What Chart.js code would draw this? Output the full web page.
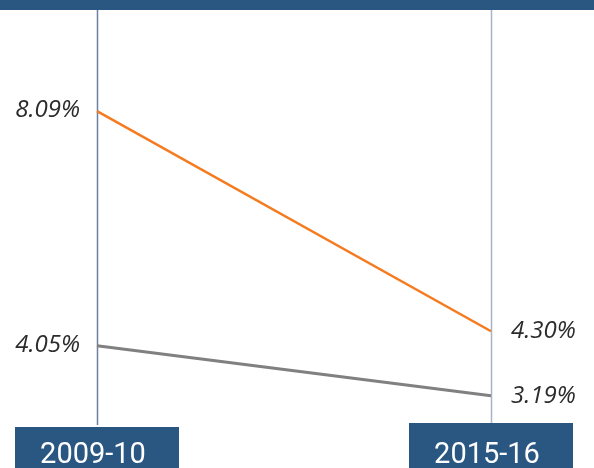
<!DOCTYPE html>
<html>
<head>
<meta charset="utf-8">
<script src="https://cdn.jsdelivr.net/npm/chart.js@4"></script>
<style>
  html, body { margin: 0; padding: 0; background: #ffffff; }
  #wrap { position: relative; width: 594px; height: 468px; overflow: hidden; }
  canvas { display: block; }
</style>
</head>
<body>
<div id="wrap"><canvas id="c" width="594" height="468"></canvas></div>
<script>
const categories = ["2009-10", "2015-16"];
const seriesOrange = [8.09, 4.30];
const seriesGray = [4.05, 3.19];

const BAND = "#2a5782";

const slopePlugin = {
  id: "slopeDecor",
  beforeDatasetsDraw(chart) {
    const { ctx, chartArea, scales } = chart;
    const xs = scales.x;
    ctx.save();
    ctx.fillStyle = BAND;
    ctx.fillRect(0, 0, chart.width, 10);
    const lineColors = ["#6d80a0", "#a8b5c8"];
    categories.forEach((c, i) => {
      const x = Math.round(xs.getPixelForValue(i)) + 0.5;
      ctx.strokeStyle = lineColors[i];
      ctx.lineWidth = 1.5;
      ctx.beginPath();
      ctx.moveTo(x, 10);
      ctx.lineTo(x, chartArea.bottom + 2);
      ctx.stroke();
    });
    ctx.restore();
  },
  afterDatasetsDraw(chart) {
    const { ctx, chartArea, scales } = chart;
    const xs = scales.x, ys = scales.y;
    ctx.save();
    categories.forEach((c, i) => {
      const x = xs.getPixelForValue(i);
      const top = chartArea.bottom + (i === 0 ? 4 : 0);
      ctx.fillStyle = BAND;
      ctx.fillRect(x - 82, top, 164, chart.height - top);
      ctx.fillStyle = "#ffffff";
      ctx.font = "29px Roboto, sans-serif";
      ctx.textAlign = "center";
      ctx.textBaseline = "alphabetic";
      ctx.fillText(c, x - 4, 463, 106);
    });
    ctx.fillStyle = "#2b2b2b";
    ctx.font = "italic 24px 'Open Sans', sans-serif";
    ctx.textBaseline = "middle";
    chart.data.datasets.forEach((ds) => {
      ds.data.forEach((v, i) => {
        const x = xs.getPixelForValue(i);
        const y = ys.getPixelForValue(v);
        const txt = v.toFixed(2) + "%";
        if (i === 0) {
          ctx.textAlign = "right";
          ctx.fillText(txt, x - 17, y - 1);
        } else {
          ctx.textAlign = "left";
          ctx.fillText(txt, x + 20, y);
        }
      });
    });
    ctx.restore();
  }
};

new Chart(document.getElementById("c"), {
  type: "line",
  data: {
    labels: categories,
    datasets: [
      { data: seriesOrange, borderColor: "#f47b20", borderWidth: 2.5, pointRadius: 0, tension: 0 },
      { data: seriesGray, borderColor: "#808080", borderWidth: 3, pointRadius: 0, tension: 0 }
    ]
  },
  options: {
    responsive: false,
    animation: false,
    events: [],
    layout: { padding: { left: 97, right: 103, top: 10, bottom: 45 } },
    plugins: { legend: { display: false }, tooltip: { enabled: false }, title: { display: false } },
    scales: {
      x: { type: "category", display: false, offset: false },
      y: { type: "linear", display: false, min: 2.72, max: 9.83 }
    }
  },
  plugins: [slopePlugin]
});
</script>
</body>
</html>
